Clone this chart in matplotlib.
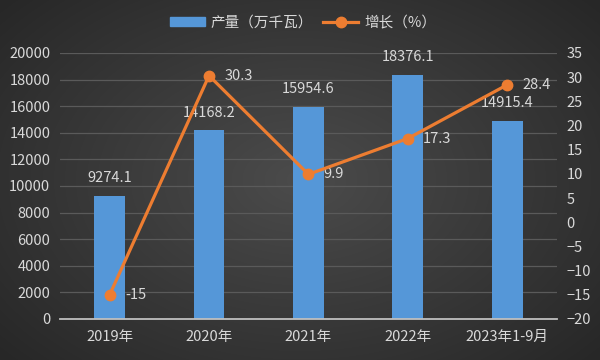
import numpy as np
import matplotlib
matplotlib.use("Agg")
import matplotlib.pyplot as plt
from matplotlib.lines import Line2D
from matplotlib.patches import Patch

plt.rcParams['font.family'] = ['Noto Sans CJK SC', 'DejaVu Sans']

# data
categories = ['2019年', '2020年', '2021年', '2022年', '2023年1-9月']
output_mw = [9274.1, 14168.2, 15954.6, 18376.1, 14915.4]   # 产量（万千瓦）
growth_pct = [-15, 30.3, 9.9, 17.3, 28.4]                   # 增长（%）
growth_text = ['-15', '30.3', '9.9', '17.3', '28.4']

TXT = '#d9d9d9'
BAR = '#5597d8'
LINE = '#ed7d31'
GRID = '#5a5a5a'
FS = 10.5

fig = plt.figure(figsize=(6, 3.6), dpi=100)

# dark radial background
bg = fig.add_axes([0, 0, 1, 1], zorder=-10)
yy, xx = np.mgrid[-1:1:360j, -1:1:600j]
r = np.sqrt(xx ** 2 + (yy * 0.9) ** 2)
bg.imshow(np.clip(r / 1.35, 0, 1), cmap=matplotlib.colors.LinearSegmentedColormap.from_list(
    'bg', ['#4b4b4b', '#272727']), aspect='auto', extent=[0, 1, 0, 1])
bg.set_axis_off()

ax = fig.add_axes([0.1, 0.114, 0.828, 0.739])
ax.patch.set_alpha(0)
x = np.arange(len(categories))

ax.set_xlim(-0.5, len(categories) - 0.5)
ax.set_ylim(0, 20000)
ax.set_yticks(range(0, 20001, 2000))
ax.yaxis.grid(True, color=GRID, linewidth=0.9)
ax.set_axisbelow(True)

ax.bar(x, output_mw, width=0.31, color=BAR, zorder=2)
for xi, v in zip(x, output_mw):
    ax.annotate(f'{v:.1f}', (xi, v), xytext=(0, 7.5), textcoords='offset points',
                ha='center', va='bottom', color=TXT, fontsize=FS)

ax.set_xticks(x)
ax.set_xticklabels(categories)
for s in ['top', 'left', 'right']:
    ax.spines[s].set_visible(False)
ax.spines['bottom'].set_color('#bfbfbf')
ax.spines['bottom'].set_linewidth(1.3)
ax.tick_params(axis='both', length=0, colors=TXT, labelsize=FS)
ax.tick_params(axis='x', pad=8)
ax.tick_params(axis='y', pad=7)

ax2 = ax.twinx()
ax2.set_ylim(-20, 35)
ax2.set_yticks(range(-20, 36, 5))
for s in ax2.spines.values():
    s.set_visible(False)
ax2.tick_params(axis='y', length=0, colors=TXT, labelsize=FS, pad=7)
ax2.plot(x, growth_pct, color=LINE, linewidth=2.3, marker='o', markersize=7.5, zorder=5)
for xi, v, t in zip(x, growth_pct, growth_text):
    ax2.annotate(t, (xi, v), xytext=(11, 0), textcoords='offset points',
                 ha='left', va='center', color=TXT, fontsize=FS)

handles = [Patch(color=BAR), Line2D([], [], color=LINE, linewidth=2.3, marker='o', markersize=7.5)]
fig.legend(handles, ['产量（万千瓦）', '增长（%）'], loc='center', bbox_to_anchor=(0.505, 0.936),
           ncol=2, frameon=False, fontsize=FS, labelcolor=TXT, handlelength=2.4,
           handleheight=0.55, columnspacing=0.7, handletextpad=0.4)

fig.savefig('out.png', dpi=100)
